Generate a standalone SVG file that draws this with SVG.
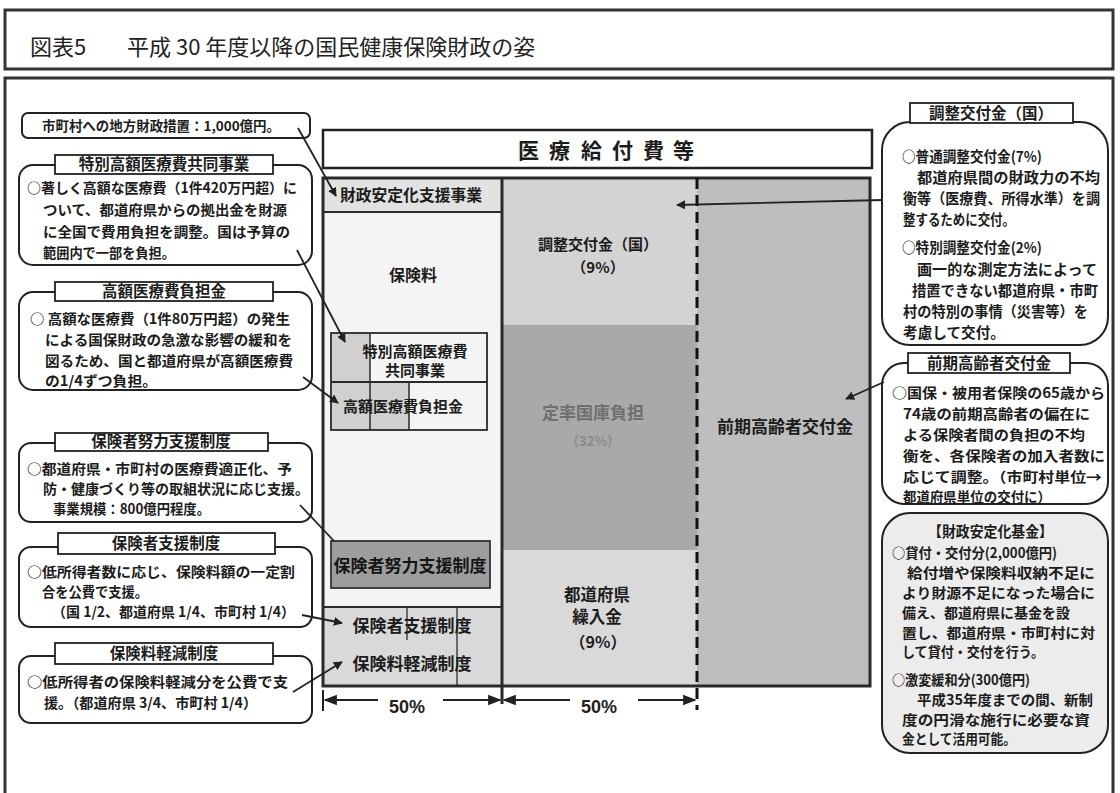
<svg xmlns="http://www.w3.org/2000/svg" width="1120" height="793" viewBox="0 0 1120 793">
<style>
.t{font-family:"Noto Sans CJK JP","Noto Sans",sans-serif;font-weight:700;fill:#1c1c1c}
.s{font-size:14px}
.r{font-size:14.5px}
.h{font-size:15.5px;text-anchor:middle}
.m{text-anchor:middle}
.box{fill:#fff;stroke:#222;stroke-width:2}
.tb{fill:#fff;stroke:#222;stroke-width:1.8}
.ln{stroke:#222;stroke-width:1.8;fill:none}
.arr{marker-end:url(#ah)}
.frame{fill:none;stroke:#333;stroke-width:3}
</style>
<defs>
<marker id="ah" viewBox="0 0 10 10" refX="9" refY="5" markerWidth="5" markerHeight="5" orient="auto" markerUnits="strokeWidth">
<path d="M0,0 L10,5 L0,10 z" fill="#222"/>
</marker>
<marker id="dim" viewBox="0 0 10 10" refX="9" refY="5" markerWidth="6" markerHeight="6" orient="auto" markerUnits="strokeWidth">
<path d="M0,1 L10,5 L0,9 z" fill="#222"/>
</marker>
</defs>
<rect width="1120" height="793" fill="#fff"/>

<g id="title">
<rect x="5" y="10" width="1108" height="59" fill="#fff" stroke="#333" stroke-width="3"/>
<text x="30" y="55" style="font-family:'Noto Sans CJK JP',sans-serif;font-size:22px;fill:#222">図表5</text>
<text x="127" y="55" style="font-family:'Noto Sans CJK JP',sans-serif;font-size:22px;fill:#222">平成 30 年度以降の国民健康保険財政の姿</text>
</g>
<path d="M5,793 V78 H1113 V793" class="frame"/>

<g id="header">
<rect x="323" y="130" width="549" height="38" fill="#fff" stroke="#222" stroke-width="2.5"/>
<text class="t" style="font-size:21px" y="158"><tspan x="518">医</tspan><tspan x="549">療</tspan><tspan x="581">給</tspan><tspan x="612">付</tspan><tspan x="643">費</tspan><tspan x="673">等</tspan></text>
</g>

<g id="bar">
<rect x="323" y="178" width="179" height="34" fill="#e2e2e2"/>
<rect x="323" y="212" width="179" height="395" fill="#f4f4f4"/>
<rect x="323" y="607" width="179" height="79" fill="#d9d9d9"/>
<rect x="502" y="178" width="195" height="147" fill="#d3d3d3"/>
<rect x="502" y="325" width="195" height="225" fill="#a9a9a9"/>
<rect x="502" y="550" width="195" height="136" fill="#d9d9d9"/>
<rect x="697" y="178" width="173" height="508" fill="#bebebe"/>
<rect x="323" y="178" width="547" height="508" fill="none" stroke="#2a2a2a" stroke-width="3"/>
<line x1="323" y1="212" x2="502" y2="212" stroke="#2a2a2a" stroke-width="2"/>
<line x1="323" y1="607" x2="502" y2="607" stroke="#2a2a2a" stroke-width="2"/>
<line x1="502" y1="178" x2="502" y2="704" stroke="#2a2a2a" stroke-width="3"/>
<line x1="697" y1="178" x2="697" y2="710" stroke="#111" stroke-width="3" stroke-dasharray="11 6"/>
</g>

<g id="n-zaisei-antei">
<text class="t" style="font-size:15.5px" x="340" y="201" textLength="142" lengthAdjust="spacingAndGlyphs">財政安定化支援事業</text>
</g>
<g id="n-hokenryo">
<text class="t m" style="font-size:16px" x="413" y="281">保険料</text>
</g>
<g id="n-tokubetsu-box">
<rect x="331" y="333" width="39" height="97" fill="#d0d0d0"/>
<rect x="370" y="382" width="39" height="48" fill="#d0d0d0"/>
<rect x="331" y="333" width="156" height="97" fill="none" stroke="#2a2a2a" stroke-width="1.8"/>
<line x1="331" y1="382" x2="487" y2="382" stroke="#2a2a2a" stroke-width="1.8"/>
<line x1="370" y1="333" x2="370" y2="430" stroke="#2a2a2a" stroke-width="1.5"/>
<line x1="409" y1="382" x2="409" y2="430" stroke="#2a2a2a" stroke-width="1.5"/>
<text class="t m" style="font-size:15px" x="415" y="357">特別高額医療費</text>
<text class="t m" style="font-size:15px" x="415" y="376">共同事業</text>
<text class="t m" style="font-size:15px" x="403" y="412">高額医療費負担金</text>
</g>
<g id="n-doryoku-bar">
<rect x="331" y="541" width="159" height="47" fill="#9d9d9d" stroke="#333" stroke-width="1.8"/>
<text class="t m" style="font-size:17px;fill:#151515" x="410" y="572">保険者努力支援制度</text>
</g>
<g id="n-shien-keigen">
<line x1="407" y1="607" x2="407" y2="640" stroke="#2a2a2a" stroke-width="1.3"/>
<line x1="457" y1="607" x2="457" y2="686" stroke="#2a2a2a" stroke-width="1.3"/>
<text class="t m" style="font-size:17px" x="412" y="632">保険者支援制度</text>
<text class="t m" style="font-size:17px" x="412" y="670">保険料軽減制度</text>
</g>
<g id="n-chosei-bar">
<text class="t m" style="font-size:15px" x="598" y="250">調整交付金（国）</text>
<text class="t m" style="font-size:15px" x="598" y="273">（9%）</text>
</g>
<g id="n-teiritsu">
<text class="t m" style="font-size:17px;fill:#6f6f6f" x="593" y="419">定率国庫負担</text>
<text class="t m" style="font-size:13px;fill:#8a8a8a" x="593" y="446">（32%）</text>
</g>
<g id="n-kurire">
<text class="t m" style="font-size:16.5px" x="597" y="601">都道府県</text>
<text class="t m" style="font-size:16.5px" x="597" y="623">繰入金</text>
<text class="t m" style="font-size:16px" x="598" y="648">（9%）</text>
</g>
<g id="n-zenki-bar">
<text class="t m" style="font-size:17px" x="785" y="433">前期高齢者交付金</text>
</g>

<g id="dimension">
<line x1="323" y1="690" x2="323" y2="711" stroke="#222" stroke-width="2"/>
<line x1="378" y1="700" x2="325" y2="700" stroke="#222" stroke-width="2.2" marker-end="url(#dim)"/>
<line x1="443" y1="700" x2="500" y2="700" stroke="#222" stroke-width="2.2" marker-end="url(#dim)"/>
<line x1="570" y1="700" x2="504" y2="700" stroke="#222" stroke-width="2.2" marker-end="url(#dim)"/>
<line x1="638" y1="700" x2="695" y2="700" stroke="#222" stroke-width="2.2" marker-end="url(#dim)"/>
<text x="407" y="713" text-anchor="middle" style="font-family:'Liberation Sans',Arial,sans-serif;font-weight:700;font-size:18px;fill:#222">50%</text>
<text x="599" y="713" text-anchor="middle" style="font-family:'Liberation Sans',Arial,sans-serif;font-weight:700;font-size:18px;fill:#222">50%</text>
</g>

<g id="a-chiho">
<rect x="22" y="113" width="288" height="25" rx="6" class="box"/>
<text class="t" style="font-size:13.5px" x="42" y="131" textLength="238" lengthAdjust="spacingAndGlyphs">市町村への地方財政措置：1,000億円。</text>
</g>

<g id="a-tokubetsu">
<rect x="19" y="165" width="293" height="100" rx="14" class="box"/>
<rect x="55" y="155" width="218" height="19" class="tb"/>
<text class="t h" x="164" y="170">特別高額医療費共同事業</text>
<text class="t s" x="27" y="193" textLength="270" lengthAdjust="spacingAndGlyphs">○著しく高額な医療費（1件420万円超）に</text>
<text class="t s" x="43" y="215" textLength="244" lengthAdjust="spacingAndGlyphs">ついて、都道府県からの拠出金を財源</text>
<text class="t s" x="43" y="237" textLength="247" lengthAdjust="spacingAndGlyphs">に全国で費用負担を調整。国は予算の</text>
<text class="t s" x="43" y="258" textLength="132" lengthAdjust="spacingAndGlyphs">範囲内で一部を負担。</text>
</g>

<g id="a-kogaku">
<rect x="19" y="292" width="293" height="98" rx="14" class="box"/>
<rect x="55" y="282" width="218" height="19" class="tb"/>
<text class="t h" x="164" y="297">高額医療費負担金</text>
<text class="t s" x="30" y="324" textLength="260" lengthAdjust="spacingAndGlyphs">○ 高額な医療費（1件80万円超）の発生</text>
<text class="t s" x="45" y="345" textLength="247" lengthAdjust="spacingAndGlyphs">による国保財政の急激な影響の緩和を</text>
<text class="t s" x="45" y="366" textLength="248" lengthAdjust="spacingAndGlyphs">図るため、国と都道府県が高額医療費</text>
<text class="t s" x="45" y="386" textLength="112" lengthAdjust="spacingAndGlyphs">の1/4ずつ負担。</text>
</g>

<g id="a-doryoku">
<rect x="19" y="443" width="293" height="79" rx="12" class="box"/>
<rect x="55" y="433" width="213" height="18" class="tb"/>
<text class="t h" x="161" y="447">保険者努力支援制度</text>
<text class="t s" x="27" y="474" textLength="265" lengthAdjust="spacingAndGlyphs">○都道府県・市町村の医療費適正化、予</text>
<text class="t s" x="43" y="494" textLength="266" lengthAdjust="spacingAndGlyphs">防・健康づくり等の取組状況に応じ支援。</text>
<text class="t s" x="53" y="514" textLength="157" lengthAdjust="spacingAndGlyphs">事業規模：800億円程度。</text>
</g>

<g id="a-shien">
<rect x="19" y="547" width="293" height="80" rx="12" class="box"/>
<rect x="58" y="533" width="217" height="21" class="tb"/>
<text class="t h" x="166" y="549">保険者支援制度</text>
<text class="t s" x="27" y="577" textLength="268" lengthAdjust="spacingAndGlyphs">○低所得者数に応じ、保険料額の一定割</text>
<text class="t s" x="42" y="597" textLength="106" lengthAdjust="spacingAndGlyphs">合を公費で支援。</text>
<text class="t s" x="52" y="617" textLength="243" lengthAdjust="spacingAndGlyphs">（国 1/2、都道府県 1/4、市町村 1/4）</text>
</g>

<g id="a-keigen">
<rect x="19" y="656" width="293" height="67" rx="12" class="box"/>
<rect x="55" y="643" width="218" height="21" class="tb"/>
<text class="t h" x="164" y="659">保険料軽減制度</text>
<text class="t s" x="27" y="687" textLength="261" lengthAdjust="spacingAndGlyphs">○低所得者の保険料軽減分を公費で支</text>
<text class="t s" x="44" y="708" textLength="213" lengthAdjust="spacingAndGlyphs">援。（都道府県 3/4、市町村 1/4）</text>
</g>

<g id="a-chosei">
<rect x="882" y="122" width="226" height="223" rx="28" class="box"/>
<rect x="910" y="103" width="163" height="20" class="tb"/>
<text class="t h" x="991" y="119">調整交付金（国）</text>
<text class="t r" x="902" y="162" textLength="140" lengthAdjust="spacingAndGlyphs">○普通調整交付金(7%)</text>
<text class="t r" x="917" y="183" textLength="183" lengthAdjust="spacingAndGlyphs">都道府県間の財政力の不均</text>
<text class="t r" x="903" y="204" textLength="197" lengthAdjust="spacingAndGlyphs">衡等（医療費、所得水準）を調</text>
<text class="t r" x="903" y="225" textLength="112" lengthAdjust="spacingAndGlyphs">整するために交付。</text>
<text class="t r" x="902" y="253" textLength="140" lengthAdjust="spacingAndGlyphs">○特別調整交付金(2%)</text>
<text class="t r" x="917" y="275" textLength="180" lengthAdjust="spacingAndGlyphs">画一的な測定方法によって</text>
<text class="t r" x="912" y="296" textLength="186" lengthAdjust="spacingAndGlyphs">措置できない都道府県・市町</text>
<text class="t r" x="903" y="317" textLength="185" lengthAdjust="spacingAndGlyphs">村の特別の事情（災害等）を</text>
<text class="t r" x="903" y="338" textLength="102" lengthAdjust="spacingAndGlyphs">考慮して交付。</text>
</g>

<g id="a-zenki">
<rect x="882" y="363" width="226" height="141" rx="22" class="box"/>
<rect x="908" y="353" width="162" height="20" class="tb"/>
<text class="t h" x="989" y="369">前期高齢者交付金</text>
<text class="t s" x="892" y="398" textLength="213" lengthAdjust="spacingAndGlyphs">○国保・被用者保険の65歳から</text>
<text class="t s" x="903" y="419" textLength="187" lengthAdjust="spacingAndGlyphs">74歳の前期高齢者の偏在に</text>
<text class="t s" x="903" y="440" textLength="182" lengthAdjust="spacingAndGlyphs">よる保険者間の負担の不均</text>
<text class="t s" x="903" y="461" textLength="202" lengthAdjust="spacingAndGlyphs">衡を、各保険者の加入者数に</text>
<text class="t s" x="903" y="482" textLength="199" lengthAdjust="spacingAndGlyphs">応じて調整。（市町村単位→</text>
<text class="t s" x="903" y="502" textLength="148" lengthAdjust="spacingAndGlyphs">都道府県単位の交付に）</text>
</g>

<g id="a-kikin">
<rect x="882" y="513" width="226" height="240" rx="28" fill="#ececec" stroke="#222" stroke-width="2"/>
<text class="t" style="font-size:14.5px" x="928" y="537" textLength="125" lengthAdjust="spacingAndGlyphs">【財政安定化基金】</text>
<text class="t s" x="892" y="558" textLength="165" lengthAdjust="spacingAndGlyphs">○貸付・交付分(2,000億円)</text>
<text class="t s" x="907" y="578" textLength="188" lengthAdjust="spacingAndGlyphs">給付増や保険料収納不足に</text>
<text class="t s" x="902" y="598" textLength="193" lengthAdjust="spacingAndGlyphs">より財源不足になった場合に</text>
<text class="t s" x="902" y="618" textLength="168" lengthAdjust="spacingAndGlyphs">備え、都道府県に基金を設</text>
<text class="t s" x="902" y="638" textLength="193" lengthAdjust="spacingAndGlyphs">置し、都道府県・市町村に対</text>
<text class="t s" x="902" y="657" textLength="142" lengthAdjust="spacingAndGlyphs">して貸付・交付を行う。</text>
<text class="t s" x="892" y="685" textLength="138" lengthAdjust="spacingAndGlyphs">○激変緩和分(300億円)</text>
<text class="t s" x="917" y="705" textLength="176" lengthAdjust="spacingAndGlyphs">平成35年度までの間、新制</text>
<text class="t s" x="902" y="725" textLength="188" lengthAdjust="spacingAndGlyphs">度の円滑な施行に必要な資</text>
<text class="t s" x="902" y="744" textLength="114" lengthAdjust="spacingAndGlyphs">金として活用可能。</text>
</g>

<g id="connectors">
<line x1="298" y1="128" x2="336" y2="196" class="ln arr"/>
<line x1="297" y1="250" x2="345" y2="342" class="ln arr"/>
<line x1="303" y1="377" x2="338" y2="403" class="ln arr"/>
<line x1="300" y1="505" x2="334" y2="541" class="ln"/>
<line x1="302" y1="615" x2="342" y2="623" class="ln arr"/>
<line x1="293" y1="692" x2="342" y2="662" class="ln arr"/>
<line x1="883" y1="200" x2="677" y2="205" class="ln arr"/>
<line x1="884" y1="382" x2="846" y2="399" class="ln arr"/>
</g>
</svg>
